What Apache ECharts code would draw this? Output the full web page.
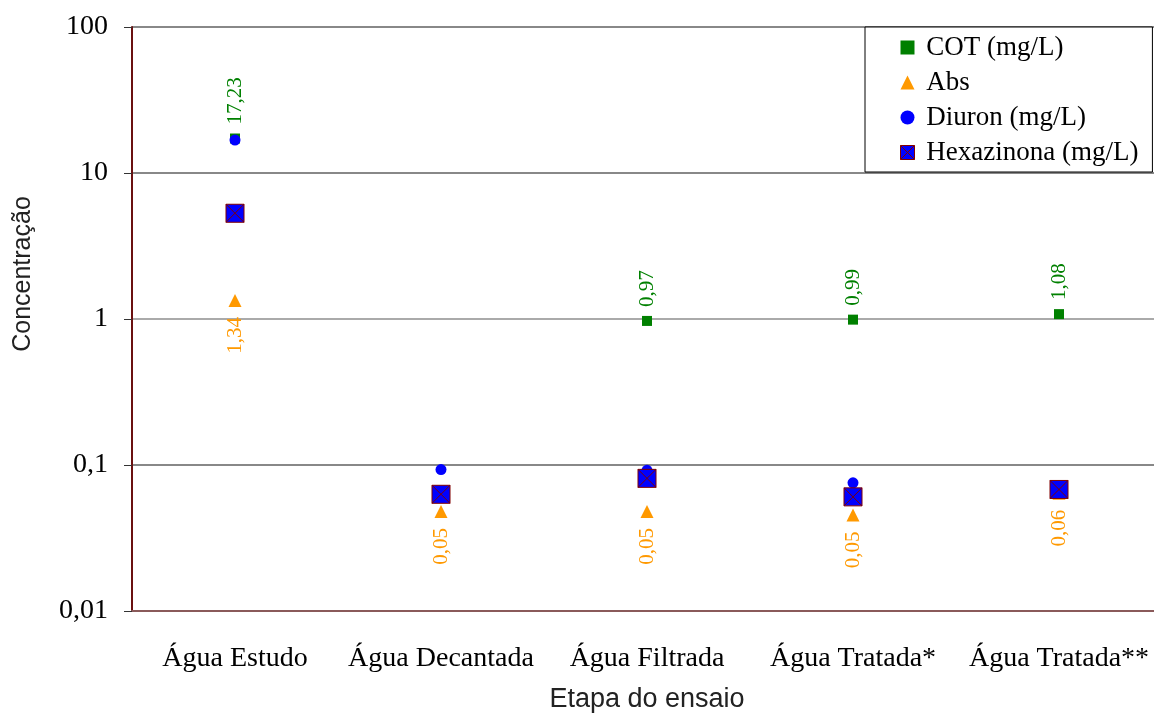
<!DOCTYPE html>
<html>
<head>
<meta charset="utf-8">
<script src="https://cdn.jsdelivr.net/npm/echarts@6/dist/echarts.min.js"></script>
<style>
  html, body { margin: 0; padding: 0; background: #fff; }
  #chart { width: 1154px; height: 716px; }
</style>
</head>
<body>
<div id="chart"></div>
<script>
const categories = ['Água Estudo', 'Água Decantada', 'Água Filtrada', 'Água Tratada*', 'Água Tratada**'];
const cot = [17.23, null, 0.97, 0.99, 1.08];
const absorb = [1.34, 0.048, 0.048, 0.0455, 0.064];
const diuron = [16.8, 0.093, 0.092, 0.0755, 0.068];
const hexazinona = [5.3, 0.063, 0.081, 0.0605, 0.068];
const yTicks = [0.01, 0.1, 1, 10, 100];

const serif = '"Liberation Serif", "Times New Roman", serif';
const narrow = '"Liberation Sans Narrow", "Liberation Sans", sans-serif';
const comma = (v) => String(v).replace('.', ',');
const hexaIcon = 'path://M0,0 L10,0 L10,10 L0,10 Z M0,0 L10,10 M10,0 L0,10';

const option = {
  animation: false,
  backgroundColor: '#fff',
  grid: { left: 132, top: 27, width: 1030, height: 584, outerBoundsMode: 'none' },
  legend: {
    orient: 'vertical',
    left: 865,
    top: 27,
    backgroundColor: '#fff',
    borderColor: '#000',
    borderWidth: 1,
    padding: [7, 14, 6, 35],
    itemGap: 8,
    itemWidth: 14,
    itemHeight: 14,
    selectedMode: false,
    formatter: (name) => ' ' + name,
    textStyle: { fontFamily: serif, fontSize: 27, color: '#000' },
    data: [
      { name: 'COT (mg/L)', icon: 'rect', itemStyle: { color: '#008000', opacity: 1 } },
      { name: 'Abs', icon: 'triangle', itemStyle: { color: '#FF9900', opacity: 1 } },
      { name: 'Diuron (mg/L)', icon: 'circle', itemStyle: { color: '#0000FF', opacity: 1 } },
      { name: 'Hexazinona (mg/L)', icon: hexaIcon, itemStyle: { color: '#0000FF', borderColor: '#800000', borderWidth: 1, opacity: 1 } }
    ]
  },
  xAxis: {
    type: 'category',
    data: categories,
    boundaryGap: true,
    name: 'Etapa do ensaio',
    nameLocation: 'middle',
    nameGap: 75,
    nameTextStyle: { fontFamily: narrow, fontSize: 27, color: '#222' },
    axisLine: { lineStyle: { color: '#8a5a5a', width: 2 } },
    axisTick: { show: false },
    axisLabel: { interval: 0, margin: 34, fontFamily: serif, fontSize: 28, color: '#000' }
  },
  yAxis: {
    type: 'log',
    logBase: 10,
    min: yTicks[0],
    max: yTicks[yTicks.length - 1],
    name: 'Concentração',
    nameLocation: 'middle',
    nameGap: 96,
    nameTextStyle: { fontFamily: narrow, fontSize: 25, color: '#222', padding: [0, 0, 0, 90] },
    axisLine: { show: true, lineStyle: { color: '#6a1010', width: 2 } },
    axisTick: { show: true, length: 8, lineStyle: { color: '#333' } },
    splitLine: { show: true, lineStyle: { color: ['#888', '#888', '#aaa', '#888', '#888'], width: 2 } },
    axisLabel: {
      margin: 24,
      fontFamily: serif,
      fontSize: 28,
      color: '#000',
      formatter: (v) => comma(+Number(v).toPrecision(3))
    }
  },
  series: [
    {
      name: 'COT (mg/L)',
      type: 'scatter',
      data: cot,
      symbol: 'rect',
      symbolSize: 10,
      itemStyle: { color: '#008000', opacity: 1 },
      label: {
        show: true,
        position: 'top',
        distance: 9,
        rotate: 90,
        align: 'left',
        verticalAlign: 'middle',
        fontFamily: serif,
        fontSize: 21,
        color: '#008000',
        formatter: (p) => comma(p.value.toFixed(2))
      }
    },
    {
      name: 'Abs',
      type: 'scatter',
      data: absorb,
      symbol: 'triangle',
      symbolSize: 13,
      itemStyle: { color: '#FF9900', opacity: 1 },
      label: {
        show: true,
        position: 'bottom',
        distance: 10,
        rotate: 90,
        align: 'right',
        verticalAlign: 'middle',
        fontFamily: serif,
        fontSize: 21,
        color: '#FF9900',
        formatter: (p) => comma(p.value.toFixed(2))
      }
    },
    {
      name: 'Diuron (mg/L)',
      type: 'scatter',
      data: diuron,
      symbol: 'circle',
      symbolSize: 11,
      itemStyle: { color: '#0000FF', opacity: 1 }
    },
    {
      name: 'Hexazinona (mg/L)',
      type: 'scatter',
      data: hexazinona,
      symbol: hexaIcon,
      symbolSize: 18,
      itemStyle: { color: '#0000FF', borderColor: '#800000', borderWidth: 1, opacity: 1 }
    }
  ]
};

const myChart = echarts.init(document.getElementById('chart'));
myChart.setOption(option);
</script>
</body>
</html>
